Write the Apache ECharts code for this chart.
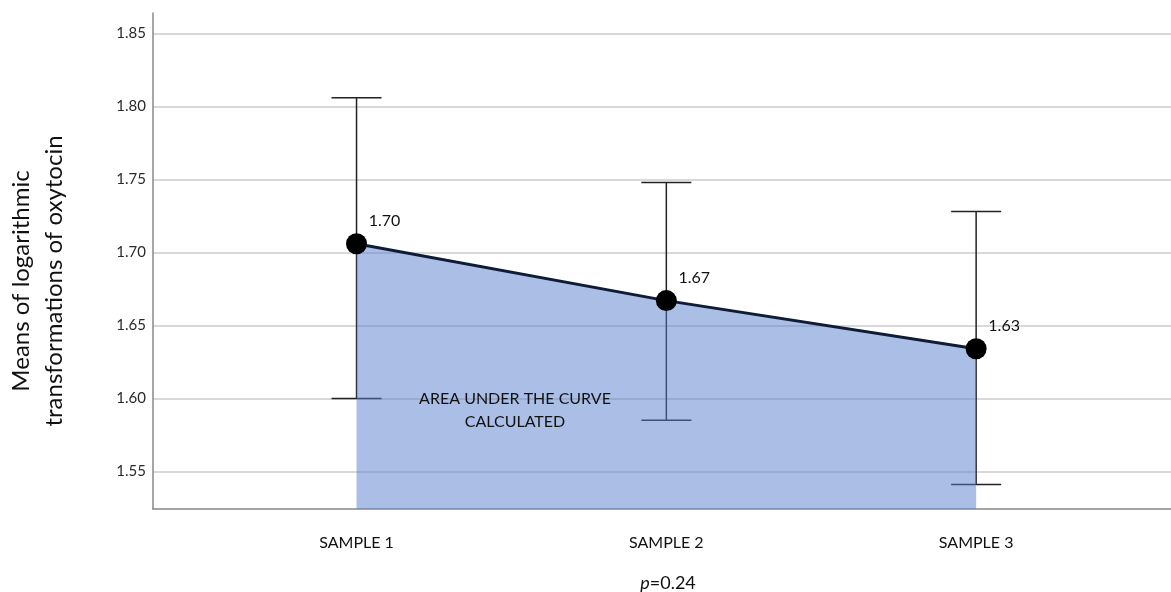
<!DOCTYPE html>
<html>
<head>
<meta charset="utf-8">
<script src="https://cdn.jsdelivr.net/npm/echarts@6/dist/echarts.min.js"></script>
<style>html,body{margin:0;padding:0;background:#fff}#c{width:1171px;height:592px}</style>
</head>
<body>
<div id="c"></div>
<script>
var categories = ['SAMPLE 1', 'SAMPLE 2', 'SAMPLE 3'];
var xPositions = [1, 2, 3];
var means = [1.706, 1.667, 1.634];
var meanLabels = ['1.70', '1.67', '1.63'];
var ciLow = [1.600, 1.585, 1.541];
var ciHigh = [1.806, 1.748, 1.728];
var yTicks = [1.55, 1.60, 1.65, 1.70, 1.75, 1.80, 1.85];

var FONT = 'Lato';
var TXT = '#111';
var chart = echarts.init(document.getElementById('c'), null, {renderer: 'canvas'});

var lineData = xPositions.map(function (x, i) { return [x, means[i]]; });
var errData = xPositions.map(function (x, i) { return [x, ciLow[i], ciHigh[i]]; });

chart.setOption({
  animation: false,
  backgroundColor: '#fff',
  grid: {left: 153, right: 0, top: 13, bottom: 83, containLabel: false},
  xAxis: {
    type: 'value', min: 0.343, max: 3.629,
    axisLine: {show: true, lineStyle: {color: '#888', width: 1.5}},
    axisTick: {show: false, customValues: xPositions},
    splitLine: {show: false},
    axisLabel: {
      customValues: xPositions, margin: 26,
      color: TXT, fontFamily: FONT, fontSize: 16,
      formatter: function (v) { return categories[Math.round(v) - 1] || ''; }
    }
  },
  yAxis: {
    type: 'value', min: 1.5242, max: 1.8641,
    axisLine: {show: true, lineStyle: {color: '#888', width: 1.5}},
    axisTick: {show: false, customValues: yTicks},
    splitLine: {show: true, lineStyle: {color: '#cdcdcd', width: 1.5}},
    axisLabel: {
      customValues: yTicks, margin: 7,
      color: '#2a2a2a', fontFamily: FONT, fontSize: 15,
      formatter: function (v) { return v.toFixed(2); }
    }
  },
  graphic: [
    {type: 'text', x: 38, y: 281, rotation: Math.PI / 2,
     style: {text: 'Means of logarithmic\ntransformations of oxytocin', font: '24px ' + FONT,
             fill: TXT, align: 'center', verticalAlign: 'middle', lineHeight: 33}},
    {type: 'text', x: 515, y: 410, z: 10,
     style: {text: 'AREA UNDER THE CURVE\nCALCULATED', font: '16px ' + FONT, fill: TXT,
             align: 'center', verticalAlign: 'middle', lineHeight: 23}},
    {type: 'text', x: 668, y: 583,
     style: {text: '{i|p}=0.24', align: 'center', verticalAlign: 'middle',
             rich: {i: {fontStyle: 'italic', fontFamily: FONT, fontSize: 18, fill: TXT}},
             font: '18px ' + FONT, fill: TXT}}
  ],
  series: [
    {
      type: 'custom', z: 2,
      data: errData,
      renderItem: function (params, api) {
        var x = api.value(0);
        var lo = api.coord([x, api.value(1)]);
        var hi = api.coord([x, api.value(2)]);
        var w = 25;
        var st = {stroke: '#222', lineWidth: 1.5};
        return {type: 'group', children: [
          {type: 'line', shape: {x1: lo[0], y1: lo[1], x2: hi[0], y2: hi[1]}, style: st},
          {type: 'line', shape: {x1: hi[0] - w, y1: hi[1], x2: hi[0] + w, y2: hi[1]}, style: st},
          {type: 'line', shape: {x1: lo[0] - w, y1: lo[1], x2: lo[0] + w, y2: lo[1]}, style: st}
        ]};
      }
    },
    {
      type: 'line', z: 3,
      data: lineData,
      symbol: 'circle', symbolSize: 21,
      itemStyle: {color: '#000'},
      lineStyle: {color: '#0e1c38', width: 3},
      areaStyle: {color: 'rgb(85,125,205)', opacity: 0.5, origin: 'start'},
      label: {
        show: true, position: 'top', distance: 4, offset: [28, 0],
        color: TXT, fontFamily: FONT, fontSize: 16,
        formatter: function (p) { return meanLabels[p.dataIndex]; }
      }
    }
  ]
});
</script>
</body>
</html>
